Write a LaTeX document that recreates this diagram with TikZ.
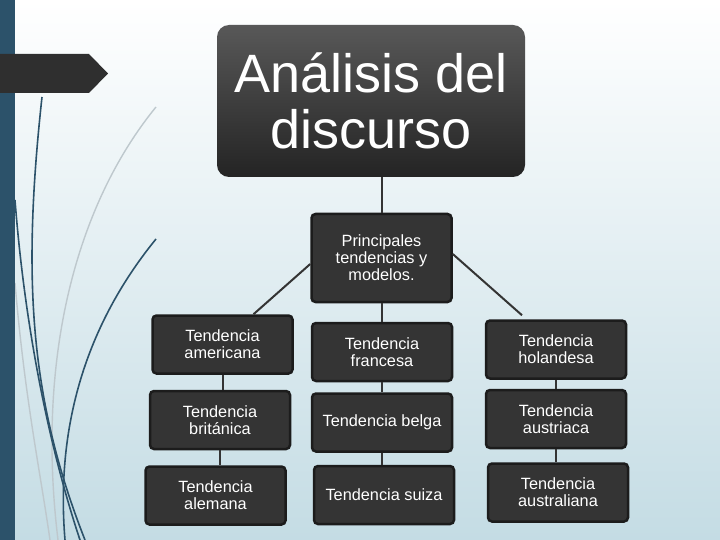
\documentclass[tikz,border=0pt]{standalone}
\usepackage{fontspec}
\setmainfont{Liberation Sans}
\usepackage{tikz}
\usepackage{xcolor}
\usetikzlibrary{positioning}

\definecolor{slidebar}{RGB}{44,82,106}
\definecolor{slidebg}{RGB}{196,220,228}
\definecolor{boxfill}{RGB}{52,52,52}
\definecolor{boxline}{RGB}{28,28,28}
\definecolor{swirllight}{RGB}{190,200,205}

\begin{document}
\begin{tikzpicture}[x=1pt, y=-1pt]

\tikzstyle{titlebox} = [rectangle, rounded corners=12pt, top color={rgb,255:red,88;green,88;blue,88},
bottom color={rgb,255:red,36;green,36;blue,36}, text=white, minimum width=308pt, minimum height=152pt,
inner sep=0pt, align=center, font=\fontsize{54}{56}\selectfont]
\tikzstyle{tbox} = [rectangle, rounded corners=4pt, fill=boxfill, draw=boxline, line width=2.5pt,
text=white, minimum width=140pt, minimum height=58pt, inner sep=0pt, align=center,
font=\fontsize{16.3}{17}\selectfont]
\tikzstyle{conn} = [draw=boxfill, line width=2pt]
\tikzstyle{swirl} = [draw=slidebar, line width=1.6pt]
\tikzstyle{swirlpale} = [draw=swirllight, line width=1.4pt]

\useasboundingbox (0,0) rectangle (720,540);
\fill[top color=white, bottom color=slidebg] (0,0) rectangle (720,540);

% slide decoration
\draw[swirlpale] (156,107) .. controls (80,200) and (35,350) .. (58,540);
\draw[swirlpale] (15,283) .. controls (25,400) and (40,470) .. (50,540);
\draw[swirl] (42,97) .. controls (22,280) and (30,400) .. (85,540);
\draw[swirl] (15,200) .. controls (25,330) and (50,450) .. (80,540);
\draw[swirl] (156,239) .. controls (90,320) and (55,420) .. (65,540);
\fill[slidebar] (0,0) rectangle (15,540);
\fill[boxfill!90!black] (0,54) -- (89,54) -- (108,73.5) -- (89,93) -- (0,93) -- cycle;

\node[titlebox] (title) at (371,101) {Análisis del\\discurso};
\node[tbox, minimum height=88pt] (mid) at (381.5,258) {Principales\\tendencias y\\modelos.};

\node[tbox] (amer) at (222.5,344.5) {Tendencia\\americana};
\node[tbox, below=15pt of amer, xshift=-2.5pt] (brit) {Tendencia\\británica};
\node[tbox, below=15pt of brit, xshift=-4.5pt] (alem) {Tendencia\\alemana};

\node[tbox] (fran) at (382,352) {Tendencia\\francesa};
\node[tbox, below=10pt of fran] (belg) {Tendencia belga};
\node[tbox, below=12pt of belg, xshift=2pt] (suiz) {Tendencia suiza};

\node[tbox] (hol) at (556,349.5) {Tendencia\\holandesa};
\node[tbox, below=9pt of hol] (aus) {Tendencia\\austriaca};
\node[tbox, below=13pt of aus, xshift=2pt] (austral) {Tendencia\\australiana};

\draw[conn] (title.south -| mid.north) -- (mid.north);
\draw[conn] ([yshift=-6pt]mid.west) -- ([xshift=31pt]amer.north);
\draw[conn] ([yshift=4pt]mid.east) -- ([xshift=-34pt,yshift=4pt]hol.north);
\draw[conn] (mid.south) -- (mid.south |- fran.north);

\draw[conn] (amer.south) -- (amer.south |- brit.north);
\draw[conn] (brit.south) -- (brit.south |- alem.north);
\draw[conn] (fran.south) -- (fran.south |- belg.north);
\draw[conn] (belg.south) -- (belg.south |- suiz.north);
\draw[conn] (hol.south) -- (hol.south |- aus.north);
\draw[conn] (aus.south) -- (aus.south |- austral.north);

\end{tikzpicture}
\end{document}
